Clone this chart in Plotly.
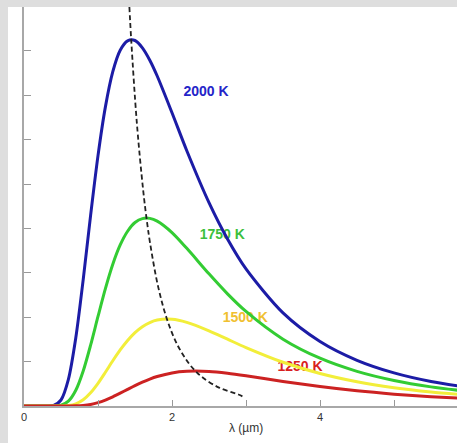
import plotly.graph_objects as go

# wavelength samples (µm)
lam = [0, 0.3, 0.4, 0.5, 0.6, 0.7, 0.8, 0.9, 1.0, 1.1, 1.2, 1.3, 1.4, 1.5, 1.6,
       1.7, 1.8, 2.0, 2.2, 2.5, 2.75, 3.0, 3.5, 4.0, 4.5, 5.0, 5.5, 6.0]

# spectral radiance (arbitrary units, one unit per y tick)
t2000 = [0, 0, 0.011, 0.135, 0.599, 1.536, 2.847, 4.293, 5.638, 6.737, 7.530, 8.013,
         8.224, 8.232, 8.067, 7.788, 7.432, 6.605, 5.749, 4.580, 3.761, 3.087, 2.097,
         1.453, 1.030, 0.746, 0.552, 0.417]
t1750 = [0, 0, 0.001, 0.017, 0.108, 0.354, 0.788, 1.370, 2.017, 2.644, 3.193, 3.627,
         3.936, 4.132, 4.221, 4.226, 4.165, 3.907, 3.551, 2.976, 2.526, 2.129, 1.505,
         1.076, 0.780, 0.575, 0.431, 0.329]
t1500 = [0, 0, 0, 0.001, 0.011, 0.050, 0.142, 0.299, 0.512, 0.761, 1.019, 1.262,
         1.476, 1.653, 1.787, 1.879, 1.935, 1.953, 1.883, 1.693, 1.504, 1.316, 0.985,
         0.733, 0.547, 0.413, 0.316, 0.245]
t1250 = [0, 0, 0, 0, 0.0005, 0.003, 0.013, 0.035, 0.075, 0.133, 0.206, 0.289,
         0.375, 0.460, 0.538, 0.607, 0.664, 0.745, 0.781, 0.777, 0.737, 0.680, 0.553,
         0.437, 0.341, 0.267, 0.210, 0.166]

# locus of the peaks (dashed)
peak_lam = [1.424, 1.449, 1.525, 1.610, 1.656, 1.705, 1.811, 1.932, 2.070, 2.229,
            2.318, 2.415, 2.635, 2.898, 2.97]
peak_val = [8.99, 8.24, 6.376, 4.866, 4.226, 3.656, 2.700, 1.955, 1.385, 0.956,
            0.786, 0.641, 0.415, 0.258, 0.200]

labels = ["2000 K", "1750 K", "1500 K", "1250 K"]
label_x = [2.46, 2.68, 2.99, 3.73]
label_y = [7.05, 3.83, 1.96, 0.86]

series = [t2000, t1750, t1500, t1250]
line_colors = ["#1c1ca6", "#33cc33", "#f2ee3a", "#cc2222"]
text_colors = ["#2424c8", "#3cbf3c", "#f0c030", "#d82020"]

x_ticks = [0, 1, 2, 3, 4, 5]
x_ticktext = ["0", "", "2", "", "4", ""]
y_ticks = [0, 1, 2, 3, 4, 5, 6, 7, 8]

fig = go.Figure()

# labels first so curves pass over them
for lab, lx, ly, c in zip(labels, label_x, label_y, text_colors):
    fig.add_trace(go.Scatter(
        x=[lx], y=[ly], mode="text", text=["<b>" + lab + "</b>"],
        textposition="middle center",
        textfont=dict(family="Liberation Sans, Arial, sans-serif", size=14, color=c),
        showlegend=False, hoverinfo="skip", cliponaxis=False))

for ys, c in zip(series, line_colors):
    fig.add_trace(go.Scatter(
        x=lam, y=ys, mode="lines",
        line=dict(color=c, width=3, shape="spline", smoothing=0.8),
        showlegend=False))

fig.add_trace(go.Scatter(
    x=peak_lam, y=peak_val, mode="lines",
    line=dict(color="#222222", width=1.8, dash="5px,3px", shape="spline"),
    showlegend=False))

W, H = 457, 443
L, R, T, B = 24, 0, 7, 37
pw = W - L - R
ph = H - T - B

fig.update_layout(
    width=W, height=H,
    margin=dict(l=L, r=R, t=T, b=B, pad=0),
    paper_bgcolor="#dedede",
    plot_bgcolor="white",
    showlegend=False,
    xaxis=dict(
        range=[0, pw / 74.0], tickmode="array", tickvals=x_ticks, ticktext=x_ticktext,
        ticks="inside", ticklen=6, tickwidth=1.2, tickcolor="#999999",
        showline=True, linecolor="#a8a8a8", linewidth=1.6,
        showgrid=False, zeroline=False,
        tickfont=dict(family="Liberation Sans, Arial, sans-serif", size=11, color="#333333"),
    ),
    yaxis=dict(
        range=[0, ph / 44.4], tickmode="array", tickvals=y_ticks,
        showticklabels=False,
        ticks="inside", ticklen=7, tickwidth=1.2, tickcolor="#999999",
        showline=True, linecolor="#a8a8a8", linewidth=1.6,
        showgrid=False, zeroline=False,
    ),
    shapes=[dict(
        type="rect", xref="paper", yref="paper",
        x0=(8 - L) / pw, x1=1.02, y0=-(B + 5) / ph, y1=1.0,
        fillcolor="white", line=dict(width=0), layer="below")],
    annotations=[dict(
        text="λ (µm)", xref="x", yref="paper", x=3.0, y=-(428 - (H - B)) / ph,
        showarrow=False, xanchor="center", yanchor="middle",
        font=dict(family="Liberation Sans, Arial, sans-serif", size=12, color="#333333"))],
)

fig.write_html(
    "out.html",
    config={"displayModeBar": False},
    post_script="document.body.style.margin='0';document.body.style.overflow='hidden';",
)
